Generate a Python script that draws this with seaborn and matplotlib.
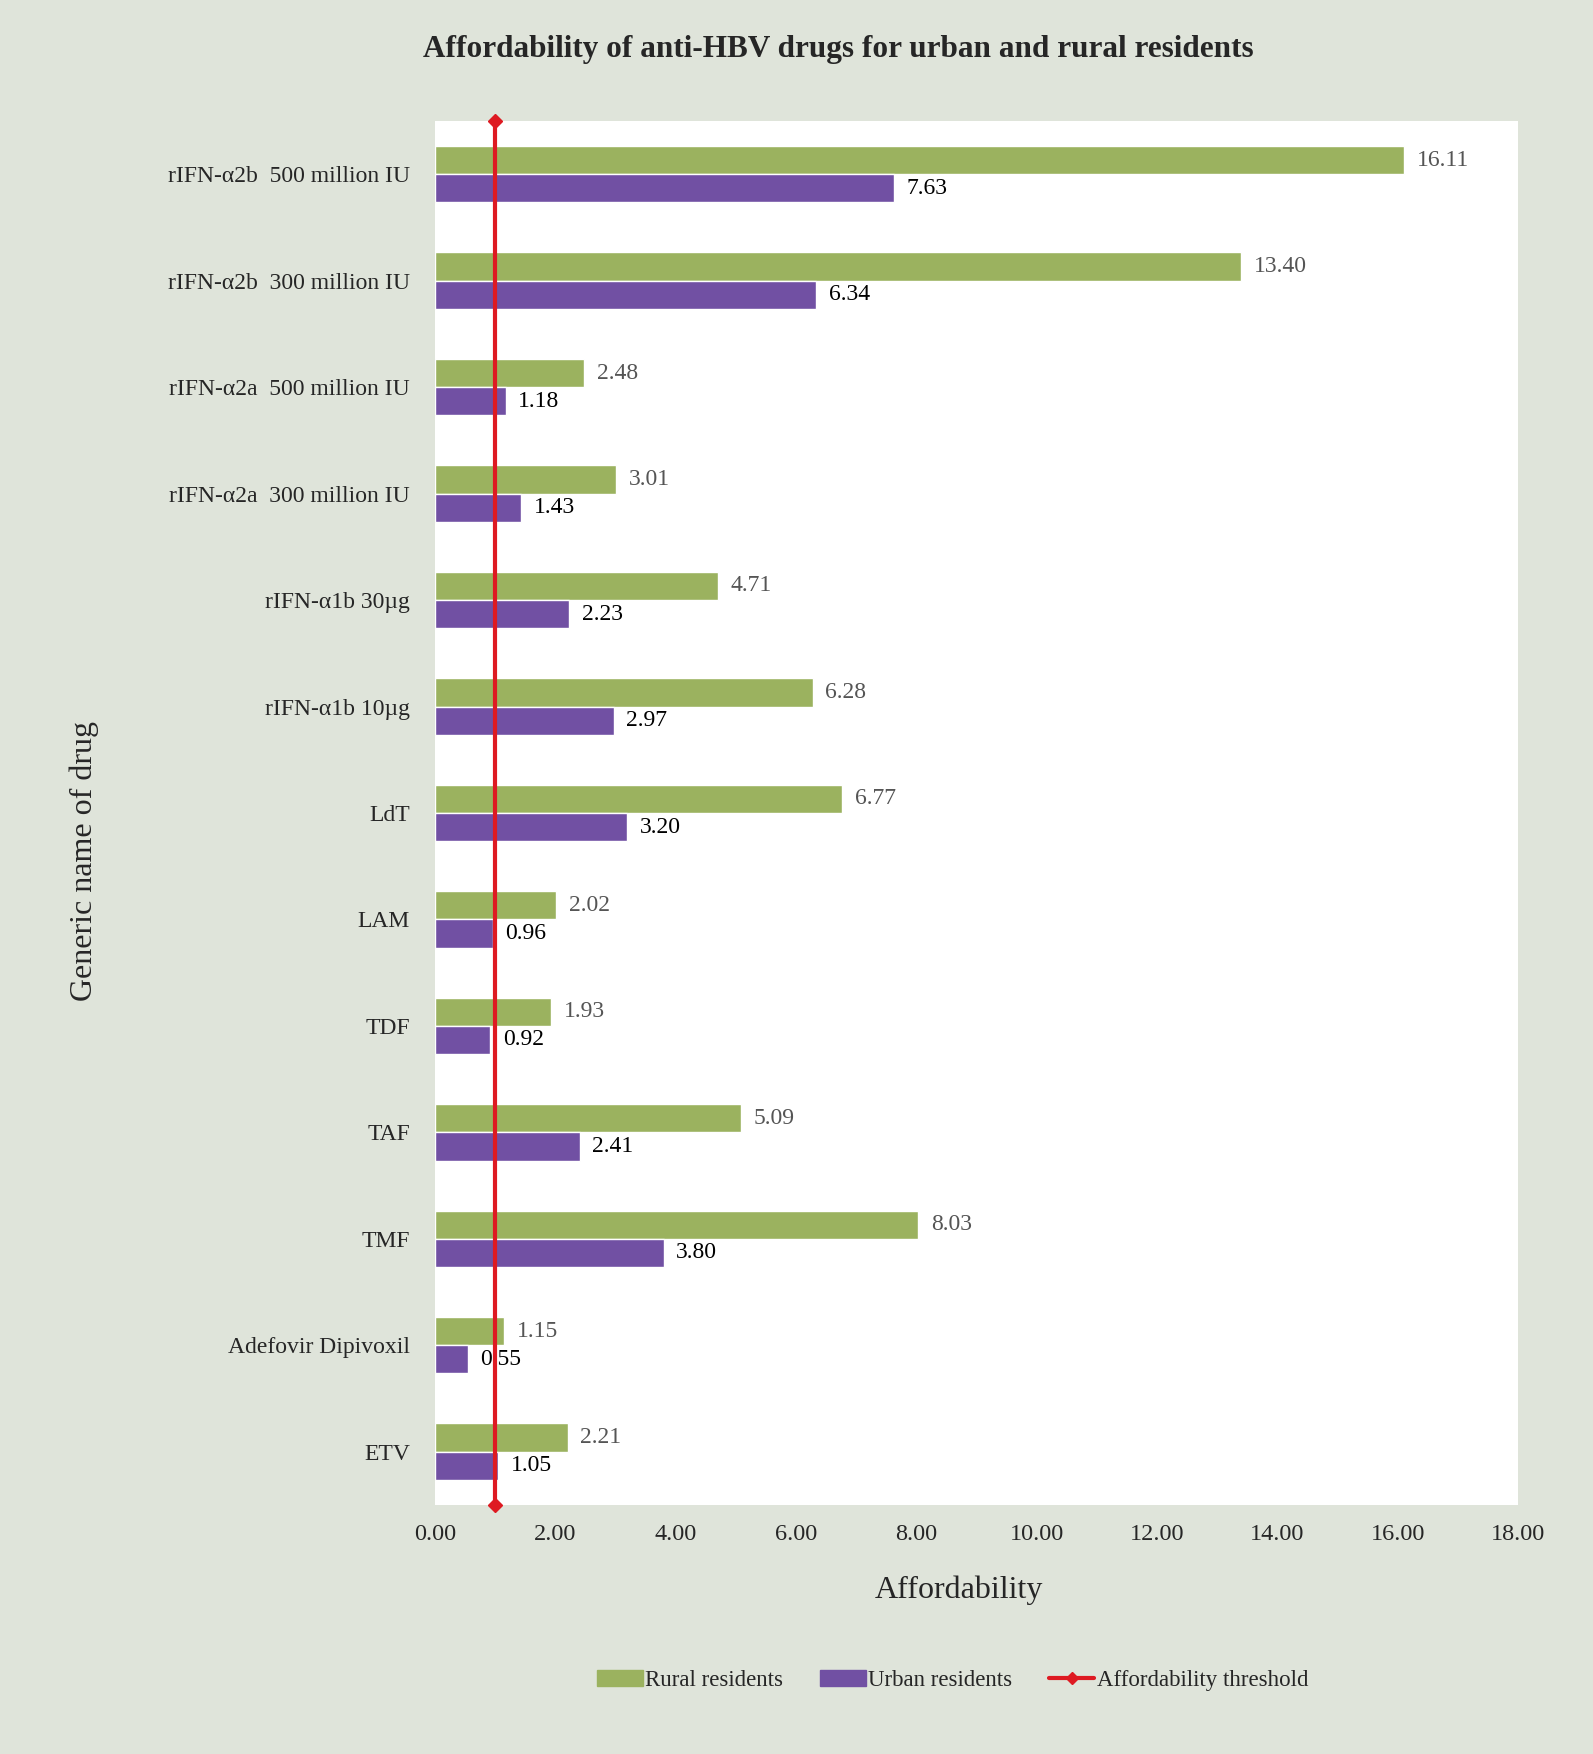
import matplotlib
matplotlib.use("Agg")
import matplotlib.pyplot as plt
import matplotlib.patches as mpatches
import matplotlib.lines as mlines
import seaborn as sns
import pandas as pd

drugs = ["rIFN-α2b  500 million IU", "rIFN-α2b  300 million IU",
         "rIFN-α2a  500 million IU", "rIFN-α2a  300 million IU",
         "rIFN-α1b 30µg", "rIFN-α1b 10µg", "LdT", "LAM", "TDF", "TAF",
         "TMF", "Adefovir Dipivoxil", "ETV"]
rural = [16.11, 13.40, 2.48, 3.01, 4.71, 6.28, 6.77, 2.02, 1.93, 5.09, 8.03, 1.15, 2.21]
urban = [7.63, 6.34, 1.18, 1.43, 2.23, 2.97, 3.20, 0.96, 0.92, 2.41, 3.80, 0.55, 1.05]
groups = ["Rural residents", "Urban residents"]
threshold = 1.0
xticks = [0, 2, 4, 6, 8, 10, 12, 14, 16, 18]

df = pd.DataFrame({
    "drug": drugs * 2,
    "value": rural + urban,
    "group": [groups[0]] * len(drugs) + [groups[1]] * len(drugs),
})

sns.set_style("white")
plt.rcParams["font.family"] = ["Liberation Serif", "DejaVu Serif"]

bg = "#dfe4da"
green = "#9bb25f"
purple = "#7150a3"
red = "#de1a22"

fig = plt.figure(figsize=(15.93, 17.54), dpi=100, facecolor=bg)
ax = fig.add_axes([0.273, 0.142, 0.68, 0.789])
ax.set_facecolor("white")

sns.barplot(data=df, x="value", y="drug", hue="group", hue_order=groups,
            order=drugs, palette=[green, purple], orient="h", width=0.53,
            saturation=1, ax=ax, legend=False)

for i, cont in enumerate(ax.containers):
    ax.bar_label(cont, fmt="%.2f", padding=9, fontsize=17,
                 color="#555555" if i == 0 else "black")

# affordability threshold line with diamond ends
ax.axvline(threshold, color=red, lw=3, marker="D", markersize=7,
           clip_on=False, zorder=5)

ax.set_xlim(0, 18)
ax.set_xticks(xticks)
ax.set_xticklabels([f"{t:.2f}" for t in xticks], fontsize=17.5)
ax.tick_params(axis="y", labelsize=17, length=0, pad=18)
ax.tick_params(axis="x", length=0, pad=14)
for s in ax.spines.values():
    s.set_visible(False)
ax.set_ylabel("")
ax.set_xlabel("Affordability", fontsize=23, va="center")
ax.xaxis.set_label_coords(0.484, -0.062)

fig.text(0.526, 0.972, "Affordability of anti-HBV drugs for urban and rural residents",
         ha="center", va="center", fontsize=22.5, fontweight="bold")
fig.text(0.053, 0.509, "Generic name of drug", rotation=90, ha="center",
         va="center", fontsize=23)

handles = [mpatches.Patch(color=green, label=groups[0]),
           mpatches.Patch(color=purple, label=groups[1]),
           mlines.Line2D([], [], color=red, lw=3, marker="D",
                         markersize=6, label="Affordability threshold")]
fig.legend(handles=handles, loc="center", bbox_to_anchor=(0.598, 0.042),
           ncol=3, frameon=False, fontsize=16.5, handlelength=2.0,
           handletextpad=0.1, columnspacing=1.6)

fig.savefig("out.png", dpi=100, facecolor=bg)
